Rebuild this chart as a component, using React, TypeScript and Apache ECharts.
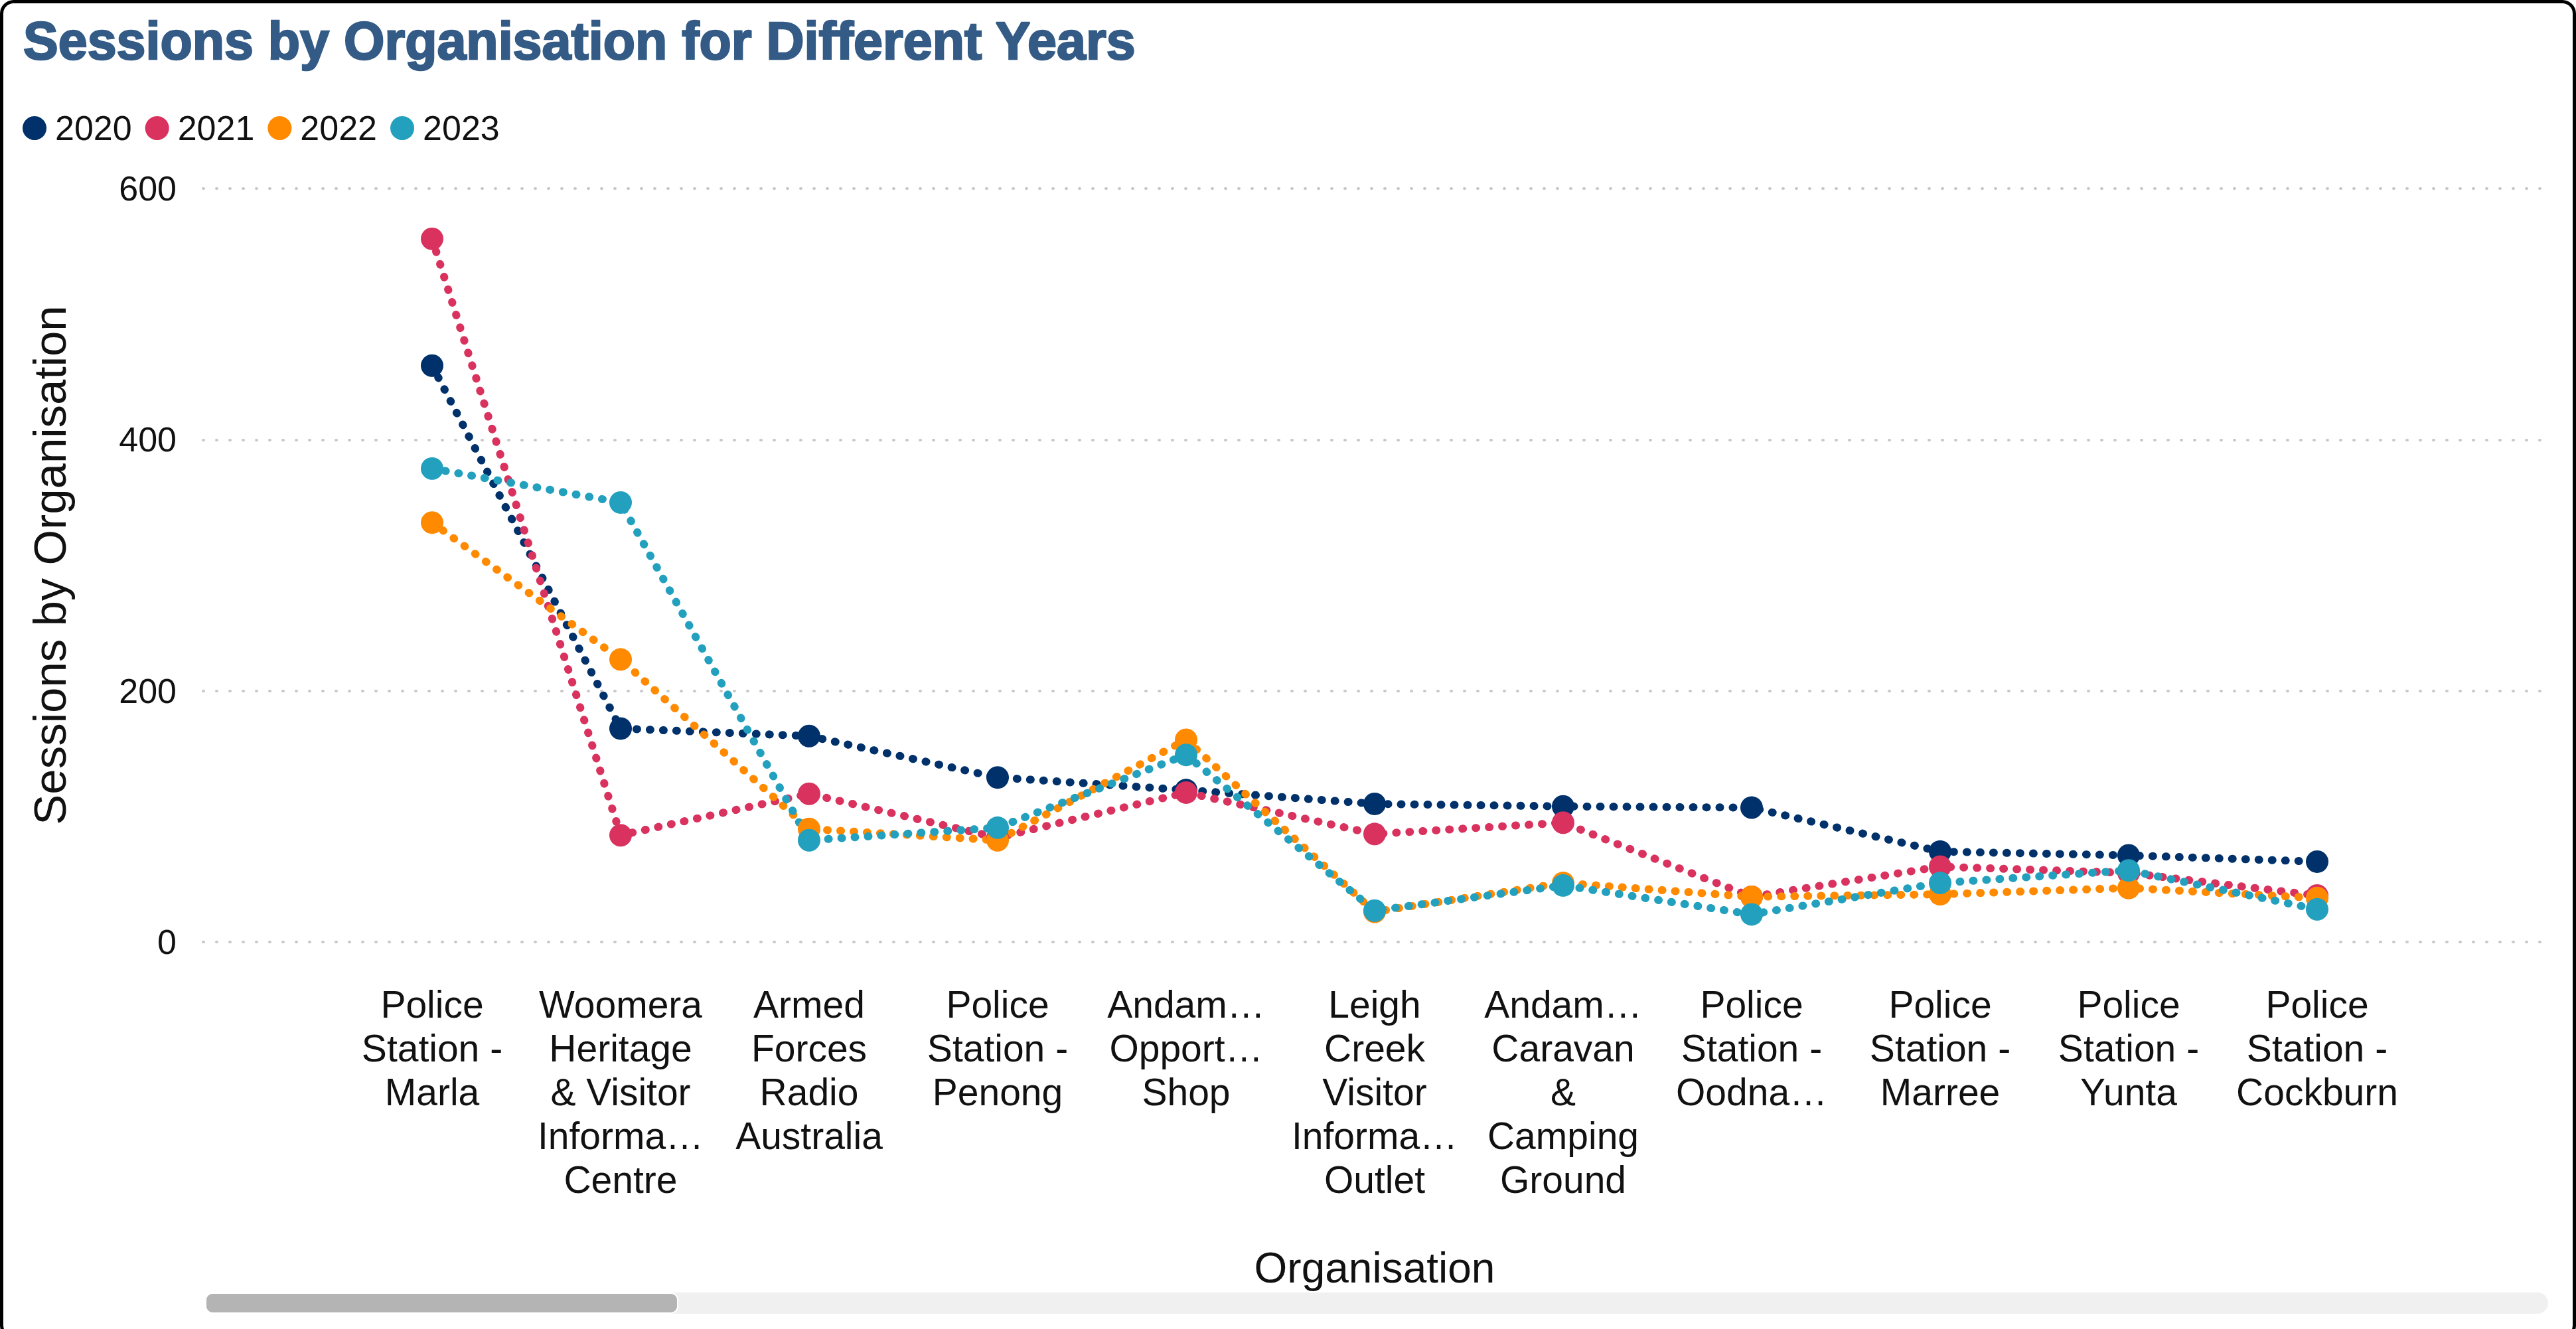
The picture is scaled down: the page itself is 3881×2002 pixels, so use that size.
import React, { useEffect, useRef } from "react";
import * as echarts from "echarts";

const categories = [
  "Police\nStation -\nMarla",
  "Woomera\nHeritage\n& Visitor\nInforma…\nCentre",
  "Armed\nForces\nRadio\nAustralia",
  "Police\nStation -\nPenong",
  "Andam…\nOpport…\nShop",
  "Leigh\nCreek\nVisitor\nInforma…\nOutlet",
  "Andam…\nCaravan\n&\nCamping\nGround",
  "Police\nStation -\nOodna…",
  "Police\nStation -\nMarree",
  "Police\nStation -\nYunta",
  "Police\nStation -\nCockburn",
];

const years = ["2020", "2021", "2022", "2023"];
const colors = ["#00316A", "#D9325E", "#FF8A00", "#22A0BE"];

const sessions2020 = [459, 170, 164, 131, 121, 110, 108, 107, 72, 69, 64];
const sessions2021 = [560, 85, 118, 83, 119, 86, 95, 36, 60, 55, 37];
const sessions2022 = [334, 225, 90, 81, 161, 24, 47, 36, 38, 43, 35];
const sessions2023 = [377, 350, 81, 91, 149, 25, 45, 22, 47, 57, 26];

const yTicks = [0, 200, 400, 600];

const FONT = '"Liberation Sans", Arial, sans-serif';

export default function App() {
  const ref = useRef<HTMLDivElement>(null);

  useEffect(() => {
    if (!ref.current) return;
    const chart = echarts.init(ref.current, undefined, { renderer: "svg" });
    const allSeries = [sessions2020, sessions2021, sessions2022, sessions2023];

    const option: any = {
      animation: false,
      backgroundColor: "#ffffff",
      textStyle: { fontFamily: FONT },
      title: {
        text: "Sessions by Organisation for Different Years",
        left: 30,
        top: 17,
        textStyle: {
          fontFamily: FONT,
          fontSize: 79,
          fontWeight: "bold",
          color: "#335B86",
          textBorderColor: "#335B86",
          textBorderWidth: 2.5,
        },
      },
      legend: {
        left: 29,
        top: 162,
        icon: "circle",
        itemWidth: 52,
        itemHeight: 36,
        itemGap: 20,
        data: years,
        textStyle: { fontFamily: FONT, fontSize: 52, color: "#111111" },
      },
      grid: [
        { left: 306, right: 51, top: 284, bottom: 583 },
        { left: 509, right: 248, top: 284, bottom: 583 },
      ],
      xAxis: [
        {
          type: "value",
          gridIndex: 0,
          min: 0,
          max: 1,
          show: false,
        },
        {
          type: "category",
          gridIndex: 1,
          data: categories,
          boundaryGap: true,
          axisLine: { show: false },
          axisTick: { show: false },
          axisLabel: {
            interval: 0,
            margin: 61,
            fontFamily: FONT,
            fontSize: 57,
            lineHeight: 66,
            color: "#111111",
            align: "center",
          },
          name: "Organisation",
          nameLocation: "middle",
          nameGap: 459,
          nameTextStyle: { fontFamily: FONT, fontSize: 64, color: "#111111" },
        },
      ],
      yAxis: [
        {
          type: "value",
          gridIndex: 0,
          min: yTicks[0],
          max: yTicks[yTicks.length - 1],
          interval: 200,
          axisLine: { show: false },
          axisTick: { show: false },
          axisLabel: {
            margin: 40,
            fontFamily: FONT,
            fontSize: 52,
            color: "#111111",
          },
          splitLine: {
            show: true,
            lineStyle: { color: "#c8c8c8", width: 4, type: [1, 19], cap: "round" },
          },
          name: "Sessions by Organisation",
          nameLocation: "middle",
          nameGap: 196,
          nameTextStyle: { fontFamily: FONT, fontSize: 69, color: "#111111" },
        },
        {
          type: "value",
          gridIndex: 1,
          min: 0,
          max: 600,
          interval: 200,
          show: false,
          splitLine: { show: false },
        },
      ],
      series: years.map((y, i) => ({
        name: y,
        type: "line",
        xAxisIndex: 1,
        yAxisIndex: 1,
        data: allSeries[i],
        symbol: "circle",
        symbolSize: 34,
        itemStyle: { color: colors[i] },
        lineStyle: { color: colors[i], width: 12, type: [1, 19], cap: "round" },
        emphasis: { disabled: true },
      })),
      color: colors,
      graphic: [
        {
          type: "rect",
          shape: { x: 310, y: 1947, width: 3529, height: 32, r: 16 },
          style: { fill: "#f0f0f0" },
          z: 1,
        },
        {
          type: "rect",
          shape: { x: 310, y: 1948, width: 711, height: 30, r: 10 },
          style: { fill: "#b4b4b4", stroke: "#ffffff", lineWidth: 2 },
          z: 2,
        },
        {
          type: "rect",
          shape: { x: 2.5, y: 2.5, width: 3876, height: 2012, r: 18 },
          style: { fill: "none", stroke: "#000000", lineWidth: 5 },
          z: 10,
        },
      ],
    };

    chart.setOption(option);
    return () => chart.dispose();
  }, []);

  return (
    <div
      ref={ref}
      style={{ position: "absolute", left: 0, top: 0, width: 3881, height: 2002 }}
    />
  );
}
